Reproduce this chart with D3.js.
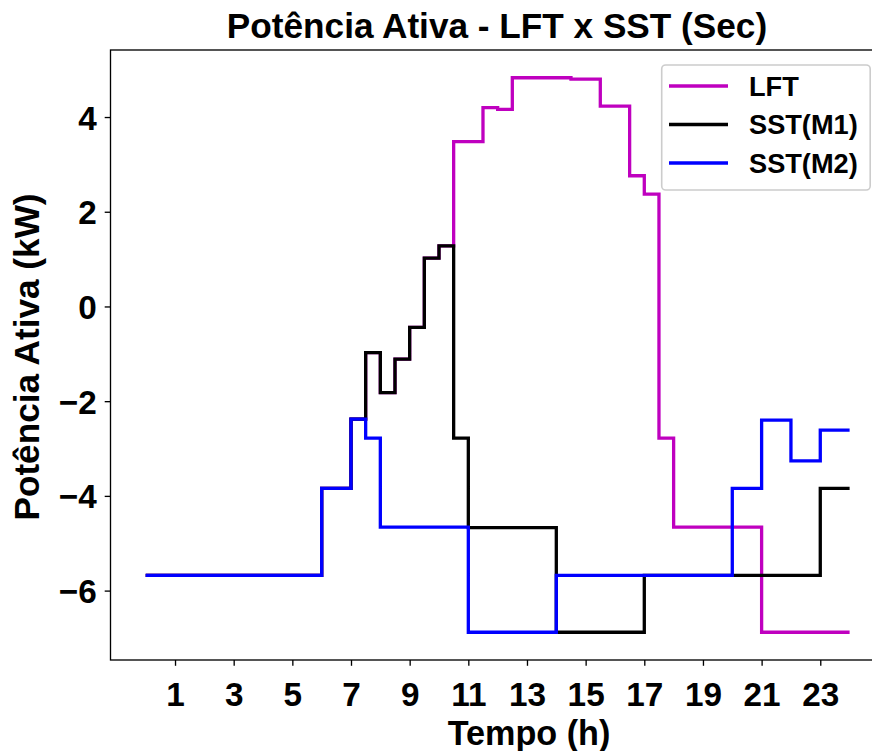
<!DOCTYPE html>
<html><head><meta charset="utf-8">
<script src="https://cdn.jsdelivr.net/npm/d3@7"></script>
<style>
body{margin:0;background:#fff}
svg{display:block}
text{font-family:"Liberation Sans",Arial,sans-serif;font-weight:bold;fill:#000}
</style>
</head><body><svg id="c" width="872" height="751"></svg>
<script>
// Start time (h) of each half-hour interval
const hours = [0,0.5,1,1.5,2,2.5,3,3.5,4,4.5,5,5.5,6,6.5,7,7.5,8,8.5,9,9.5,10,10.5,11,11.5,
               12,12.5,13,13.5,14,14.5,15,15.5,16,16.5,17,17.5,18,18.5,19,19.5,20,20.5,21,21.5,22,22.5,23,23.5];
const endHour = 24;
const lft = [-5.68,-5.68,-5.68,-5.68,-5.68,-5.68,-5.68,-5.68,-5.68,-5.68,-5.68,-5.68,
             -3.84,-3.84,-2.38,-0.975,-1.82,-1.11,-0.44,1.02,1.28,3.48,3.48,4.20,
             4.16,4.83,4.83,4.83,4.83,4.80,4.80,4.23,4.23,2.76,2.37,-2.78,
             -4.66,-4.66,-4.66,-4.66,-4.66,-4.66,-6.88,-6.88,-6.88,-6.88,-6.88,-6.88];
const sstM1 = [-5.68,-5.68,-5.68,-5.68,-5.68,-5.68,-5.68,-5.68,-5.68,-5.68,-5.68,-5.68,
               -3.84,-3.84,-2.38,-0.975,-1.82,-1.11,-0.44,1.02,1.28,-2.78,-4.67,-4.67,
               -4.67,-4.67,-4.67,-4.67,-6.88,-6.88,-6.88,-6.88,-6.88,-6.88,-5.68,-5.68,
               -5.68,-5.68,-5.68,-5.68,-5.68,-5.68,-5.68,-5.68,-5.68,-5.68,-3.84,-3.84];
const sstM2 = [-5.68,-5.68,-5.68,-5.68,-5.68,-5.68,-5.68,-5.68,-5.68,-5.68,-5.68,-5.68,
               -3.84,-3.84,-2.38,-2.78,-4.66,-4.66,-4.66,-4.66,-4.66,-4.66,-6.88,-6.88,
               -6.88,-6.88,-6.88,-6.88,-5.68,-5.68,-5.68,-5.68,-5.68,-5.68,-5.68,-5.68,
               -5.68,-5.68,-5.68,-5.68,-3.84,-3.84,-2.40,-2.40,-3.26,-3.26,-2.61,-2.61];
const seriesNames = ["LFT","SST(M1)","SST(M2)"];
const seriesColors = ["#bf00bf","#000000","#0000ff"];
const xTicks = [1,3,5,7,9,11,13,15,17,19,21,23];
const yTicks = [-6,-4,-2,0,2,4];
const title = "Potência Ativa - LFT x SST (Sec)";
const xLabel = "Tempo (h)";
const yLabel = "Potência Ativa (kW)";

const svg = d3.select("#c");
const L = 110.5, R = 884.8, T = 50, B = 660;
const FS = 33.3;

const allV = lft.concat(sstM1, sstM2);
const vmin = d3.min(allV), vmax = d3.max(allV), m = (vmax - vmin) * 0.05;
const x = d3.scaleLinear().domain([-1.2, 25.2]).range([L, R]);
const y = d3.scaleLinear().domain([vmin - m, vmax + m]).range([B, T]);

svg.append("defs").append("clipPath").attr("id","clip")
  .append("rect").attr("x",L).attr("y",T).attr("width",R-L).attr("height",B-T);

const line = d3.line().x(d=>x(d[0])).y(d=>y(d[1])).curve(d3.curveStepAfter);
const series = [lft, sstM1, sstM2];
series.forEach((vals,k)=>{
  const pts = hours.map((h,i)=>[h, vals[i]]);
  pts.push([endHour, vals[vals.length-1]]);
  svg.append("path").attr("clip-path","url(#clip)")
    .attr("d", line(pts)).attr("fill","none")
    .attr("stroke", seriesColors[k]).attr("stroke-width",3.3)
    .attr("stroke-linejoin","miter").attr("stroke-linecap","butt");
});

// axes ticks
const xa = svg.append("g").attr("transform",`translate(0,${B})`)
  .call(d3.axisBottom(x).tickValues(xTicks).tickSize(5.8).tickPadding(16.6).tickFormat(d3.format("d")));
const ya = svg.append("g").attr("transform",`translate(${L},0)`)
  .call(d3.axisLeft(y).tickValues(yTicks).tickSize(5.8).tickPadding(8).tickFormat(d=> d<0 ? "\u2212"+Math.abs(d) : String(d)));
[xa,ya].forEach(a=>{
  a.select(".domain").remove();
  a.selectAll(".tick line").attr("stroke","#000").attr("stroke-width",1.33);
  a.selectAll(".tick text").attr("font-size",FS).attr("font-family",null).attr("fill","#000");
});
ya.selectAll(".tick text").attr("dy","0.36em");

// spines
const sp = svg.append("g").attr("stroke","#000").attr("stroke-width",1.33).attr("fill","none");
sp.append("rect").attr("x",L).attr("y",T).attr("width",R-L).attr("height",B-T);

// title & labels
svg.append("text").attr("x",497).attr("y",38).attr("text-anchor","middle").attr("font-size",35.2).text(title);
svg.append("text").attr("x",529).attr("y",745).attr("text-anchor","middle").attr("font-size",34.2).text(xLabel);
svg.append("text").attr("transform",`translate(39,${(T+B)/2+2}) rotate(-90)`).attr("text-anchor","middle").attr("font-size",35.2).text(yLabel);

// legend
const lg = svg.append("g");
lg.append("rect").attr("x",661.7).attr("y",65).attr("width",208.5).attr("height",125).attr("rx",4)
  .attr("fill","#fff").attr("fill-opacity",0.8).attr("stroke","#cccccc").attr("stroke-width",1.6);
seriesNames.forEach((n,i)=>{
  const yy = 86 + i*38.5;
  lg.append("line").attr("x1",669).attr("x2",728).attr("y1",yy).attr("y2",yy)
    .attr("stroke",seriesColors[i]).attr("stroke-width",3.3);
  lg.append("text").attr("x",749).attr("y",yy).attr("dy","0.36em").attr("font-size",27.2).text(n);
});
</script></body></html>
